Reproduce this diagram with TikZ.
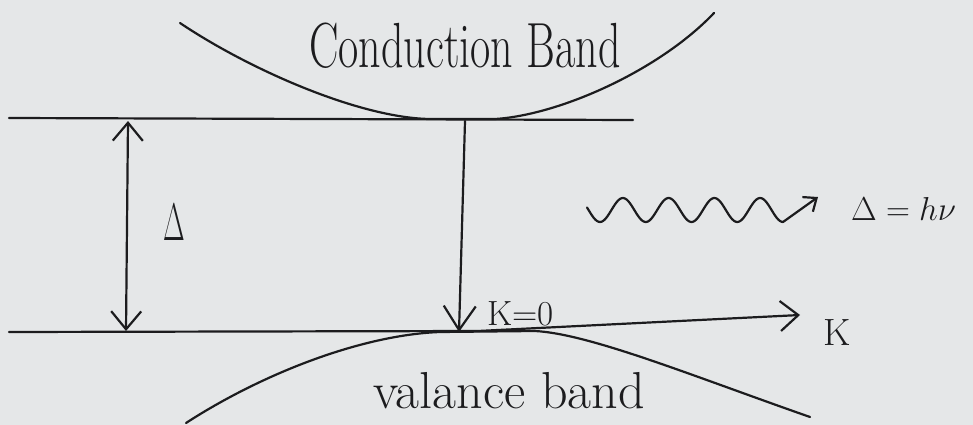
\documentclass[tikz,border=0pt]{standalone}
\usetikzlibrary{arrows.meta}
\definecolor{paper}{RGB}{229,231,232}
\definecolor{ink}{RGB}{28,28,30}
\tikzset{
  inkline/.style={draw=ink, line width=2.2pt, line cap=round, line join=round},
  lbl/.style={text=ink, inner sep=0pt},
}
\begin{document}
\begin{tikzpicture}[x=1pt,y=-1pt]
  \fill[paper] (0,0) rectangle (973,425);
  \useasboundingbox (0,0) rectangle (973,425);

  % reference coordinates
  \coordinate (tl0) at (9,118);
  \coordinate (tl1) at (633,120);
  \coordinate (bl0) at (9,332);
  \coordinate (bl1) at (478,331);
  \coordinate (axE) at (800,315);
  \coordinate (gT) at (128,121);
  \coordinate (gB) at (126,331);
  \coordinate (tT) at (465,121);
  \coordinate (tB) at (459,332);
  \coordinate (cbL) at (180,23);
  \coordinate (cbM1) at (430,119);
  \coordinate (cbM2) at (495,119);
  \coordinate (cbR) at (714,13);
  \coordinate (vbL) at (186,423);
  \coordinate (vbM1) at (440,332);
  \coordinate (vbM2) at (535,331);
  \coordinate (vbR) at (810,417);
  \coordinate (wE) at (818,197);

  % band edges
  \draw[inkline] (tl0) -- (tl1);
  \draw[inkline, -{Straight Barb[length=18pt,width=30pt]}] (bl0) -- (bl1) -- (axE);

  % conduction band
  \draw[inkline] (cbL) .. controls (250,70) and (360,118) .. (cbM1) -- (cbM2)
        .. controls (560,115) and (660,70) .. (cbR);
  % valence band
  \draw[inkline] (vbL) .. controls (260,375) and (360,335) .. (vbM1) -- (vbM2)
        .. controls (590,334) and (690,375) .. (vbR);

  % gap arrow
  \draw[inkline, {Straight Barb[length=18pt,width=30pt]}-{Straight Barb[length=18pt,width=30pt]}] (gT) -- (gB);
  % transition arrow
  \draw[inkline, -{Straight Barb[length=24pt,width=32pt]}] (tT) -- (tB);

  % photon
  \draw[inkline, -{Straight Barb[length=11pt,width=18pt]}]
     plot[domain=587:783, samples=120] (\x, {210+12*cos(7.8689*(\x-600))}) -- (wE);

  % labels
  \node[lbl, font=\fontsize{44}{50}\selectfont] (cb) at (465,46) {\scalebox{1}[1.45]{Conduction Band}};
  \node[lbl, font=\fontsize{52}{60}\selectfont, anchor=base] (vb) at (509,408) {valance band};
  \node[lbl, font=\fontsize{35}{40}\selectfont, anchor=base west] (k0) at (487,325) {K=0};
  \node[lbl, font=\fontsize{38}{44}\selectfont, anchor=base west] (kax) at (823,345) {K};
  \node[lbl, font=\fontsize{20}{24}\selectfont] (gap) at (174,222) {\scalebox{1.35}[2.55]{$\Delta$}};
  \node[lbl, font=\fontsize{20}{24}\selectfont, anchor=base west] (eq) at (851,220) {\scalebox{1.6}{$\Delta = h\nu$}};
\end{tikzpicture}
\end{document}
